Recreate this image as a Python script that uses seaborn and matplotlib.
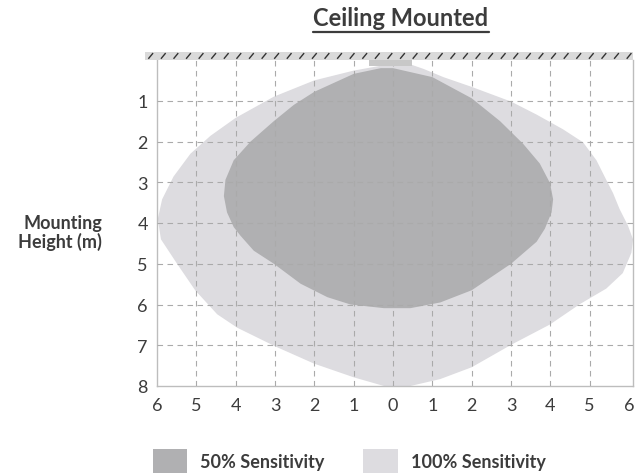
import matplotlib
matplotlib.use('Agg')
import matplotlib.pyplot as plt
from matplotlib.patches import Rectangle, Patch
from matplotlib.lines import Line2D
import numpy as np
import seaborn as sns

# outlines: horizontal distance (m) and mounting depth (m)
full_x = [-0.31, 0.0, 0.48, 0.78, 1.28, 2.0, 3.0, 3.65, 4.32, 4.83, 5.17, 5.42, 5.59, 5.76,
          5.97, 6.1, 6.06, 5.84, 5.42, 4.75, 3.99, 3.0, 2.0, 1.2, 0.44,
          -0.23, -0.99, -2.01, -2.99, -3.96, -4.47, -5.03, -5.49, -5.9, -5.98, -5.87, -5.58,
          -5.15, -4.64, -4.0, -3.03, -2.0, -1.0]
full_y = [0.14, 0.12, 0.12, 0.22, 0.42, 0.66, 1.02, 1.34, 1.7, 2.02, 2.46, 2.94, 3.26, 3.66,
          4.06, 4.4, 4.73, 5.23, 5.61, 5.99, 6.49, 6.99, 7.54, 7.83, 8.0,
          8.0, 7.79, 7.45, 7.03, 6.57, 6.24, 5.65, 5.0, 4.4, 3.9, 3.42, 2.86,
          2.3, 1.86, 1.42, 0.9, 0.5, 0.26]

half_x = [-0.31, 0.0, 1.0, 2.0, 2.72, 3.31, 3.73, 3.99, 4.07, 4.03, 3.86, 3.65, 3.0, 2.0, 1.2,
          0.44, -0.23, -1.08, -1.67, -2.35, -3.03, -3.54, -3.88, -4.05, -4.22, -4.3, -4.26,
          -4.05, -3.62, -3.03, -2.52, -2.0, -1.0]
half_y = [0.2, 0.2, 0.42, 0.94, 1.5, 2.06, 2.54, 3.02, 3.42, 3.74, 4.14, 4.46, 5.0, 5.65, 5.95,
          6.09, 6.09, 6.0, 5.82, 5.49, 5.0, 4.68, 4.31, 4.1, 3.74, 3.34, 2.94,
          2.46, 2.0, 1.5, 1.1, 0.78, 0.34]

x_ticks = list(range(-6, 7))
x_labels = [str(abs(v)) for v in x_ticks]
y_ticks = list(range(1, 9))
series_names = ['50% Sensitivity', '100% Sensitivity']
series_colors = ['#b0b0b2', '#dddce0']

sns.set_theme(style='white')
plt.rcParams['font.family'] = ['Lato', 'DejaVu Sans']
text_col = '#3c3c3c'

fig = plt.figure(figsize=(6.35, 4.77), dpi=100)
ax = fig.add_axes([157 / 635, 90 / 477, 476 / 635, 326 / 477])

ax.fill(full_x, full_y, color=series_colors[1], lw=0, zorder=1)
ax.fill(half_x, half_y, color=series_colors[0], lw=0, zorder=2)

# sensor on the ceiling
ax.add_patch(Rectangle((-0.6, 0), 1.08, 0.15, facecolor='#c8c8c8', lw=0, zorder=4))
# ceiling band with short slashes
ax.add_patch(Rectangle((-6.3, -0.2), 12.4, 0.2, facecolor='#dadada', lw=0,
                       clip_on=False, zorder=5))
for sx in np.arange(-6.22, 6.0, 0.32):
    ax.plot([sx, sx + 0.12], [-0.03, -0.17], color='#333333', lw=1.0,
            clip_on=False, zorder=6, solid_capstyle='butt')

ax.set_xlim(-6, 6.1)
ax.set_ylim(8, 0)
ax.set_xticks(x_ticks)
ax.set_xticklabels(x_labels)
ax.set_yticks(y_ticks)
ax.tick_params(axis='both', length=0, labelsize=13, colors=text_col)
ax.tick_params(axis='x', pad=8)
ax.tick_params(axis='y', pad=6.5)

for v in range(-5, 6):
    ax.axvline(v, color='#aaaaaa', lw=0.8, ls=(0, (5, 4)), zorder=3)
for v in range(1, 8):
    ax.axhline(v, color='#aaaaaa', lw=0.8, ls=(0, (5, 4)), zorder=3)

sns.despine(ax=ax, top=True, right=False)
for s in ['left', 'bottom', 'right']:
    ax.spines[s].set_color('#bdbdbd')
    ax.spines[s].set_linewidth(1.0)

fig.text(102 / 635, 1 - 233 / 477, 'Mounting\nHeight (m)', ha='right', va='center',
         multialignment='right', linespacing=1.1, fontsize=13, fontweight='bold',
         color=text_col)

title = fig.text(401 / 635, 1 - 25.5 / 477, 'Ceiling Mounted', ha='center', va='baseline',
                 fontsize=17, fontweight='bold', color=text_col)
fig.canvas.draw()
bb = title.get_window_extent().transformed(fig.transFigure.inverted())
fig.add_artist(Line2D([bb.x0, bb.x1], [1 - 32.5 / 477, 1 - 32.5 / 477],
                      transform=fig.transFigure, color=text_col, lw=1.6))

handles = [Patch(facecolor=c, edgecolor='none') for c in series_colors]
leg = fig.legend(handles, series_names, loc='center', bbox_to_anchor=(349 / 635, 15 / 477),
                 ncol=2, frameon=False, handlelength=1.9, handleheight=1.67,
                 handletextpad=0.72, columnspacing=2.16, borderpad=0,
                 prop={'size': 13, 'weight': 'bold'})
for t in leg.get_texts():
    t.set_color(text_col)

fig.savefig('out.png', dpi=100)
